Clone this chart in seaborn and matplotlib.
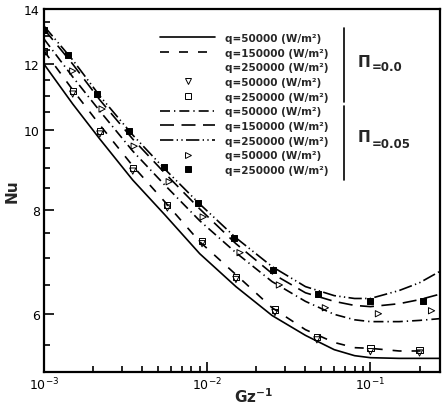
import matplotlib
matplotlib.use('Agg')
import matplotlib.pyplot as plt
import matplotlib.ticker as ticker
from matplotlib.lines import Line2D
import seaborn as sns
import pandas as pd

# curves (Gz^-1 sample points)
gz_curve = [0.001, 0.0015, 0.0022, 0.0035, 0.0055, 0.009, 0.015, 0.025, 0.04, 0.06, 0.08, 0.1, 0.15, 0.2, 0.27]
gz_curve_dashed = [0.001, 0.0015, 0.0022, 0.0035, 0.0055, 0.009, 0.015, 0.025, 0.04, 0.06, 0.08, 0.1, 0.15, 0.2, 0.23]

nu_pi0_q50k = [12.01, 10.75, 9.75, 8.70, 7.90, 7.09, 6.47, 5.97, 5.65, 5.43, 5.34, 5.31, 5.30, 5.30, 5.30]
nu_pi0_q150k = [12.46, 11.18, 10.14, 9.05, 8.19, 7.33, 6.69, 6.10, 5.74, 5.54, 5.46, 5.45, 5.41, 5.41, 5.40]
nu_pi005_q50k = [12.88, 11.59, 10.54, 9.43, 8.58, 7.77, 7.11, 6.56, 6.21, 5.99, 5.90, 5.87, 5.87, 5.89, 5.92]
nu_pi005_q150k = [13.24, 12.01, 10.87, 9.75, 8.87, 8.03, 7.29, 6.71, 6.36, 6.21, 6.14, 6.12, 6.17, 6.24, 6.34]
nu_pi005_q250k = [13.35, 12.15, 10.99, 9.86, 8.97, 8.14, 7.41, 6.84, 6.47, 6.31, 6.26, 6.26, 6.40, 6.54, 6.76]

# markers
gz_pts_pi0 = [0.001, 0.0015, 0.0022, 0.0035, 0.0057, 0.0093, 0.015, 0.026, 0.047, 0.1, 0.2]
nu_pts_pi0_q50k = [12.35, 11.05, 9.89, 8.92, 8.05, 7.29, 6.60, 6.02, 5.58, 5.40, 5.38]
nu_pts_pi0_q250k = [12.46, 11.14, 9.97, 9.00, 8.12, 7.35, 6.65, 6.07, 5.63, 5.45, 5.43]

gz_pts_pi005_q50k = [0.0015, 0.00227, 0.00357, 0.00585, 0.00945, 0.0159, 0.0277, 0.053, 0.112, 0.237]
nu_pts_pi005_q50k = [11.78, 10.60, 9.56, 8.66, 7.85, 7.11, 6.50, 6.10, 6.00, 6.05]
gz_pts_pi005_q250k = [0.001, 0.0014, 0.0021, 0.0033, 0.0054, 0.0088, 0.0146, 0.0254, 0.048, 0.1, 0.21]
nu_pts_pi005_q250k = [13.2, 12.31, 11.05, 9.97, 9.03, 8.17, 7.41, 6.78, 6.34, 6.21, 6.21]

labels = ['q=50000 (W/m²)', 'q=150000 (W/m²)', 'q=250000 (W/m²)', 'q=50000 (W/m²)', 'q=250000 (W/m²)',
          'q=50000 (W/m²)', 'q=150000 (W/m²)', 'q=250000 (W/m²)', 'q=50000 (W/m²)', 'q=250000 (W/m²)']

sns.set_style('ticks')
plt.rcParams['font.family'] = ['DejaVu Sans']

fig = plt.figure(figsize=(4.42, 4.06), dpi=100)
ax = fig.add_axes([0.0995, 0.0825, 0.896, 0.893])

lw = 1.2
styles = {
    'solid': '-',
    'dashed': (0, (5.4, 6)),
    'dashdot': (0, (6, 2.4, 0.8, 2.4)),
    'longdash': (0, (8.4, 4.5)),
    'dashdotdot': (0, (8, 2, 0.8, 2, 0.8, 2)),
}

curves = [
    (gz_curve, nu_pi0_q50k, 'solid'),
    (gz_curve_dashed, nu_pi0_q150k, 'dashed'),
    (gz_curve, nu_pi005_q50k, 'dashdot'),
    (gz_curve, nu_pi005_q150k, 'longdash'),
    (gz_curve, nu_pi005_q250k, 'dashdotdot'),
]
for gz, nu, st in curves:
    df = pd.DataFrame({'gz': gz, 'nu': nu})
    sns.lineplot(data=df, x='gz', y='nu', ax=ax, color='black', lw=lw,
                 linestyle=styles[st], estimator=None, sort=False)

# markers
ms = 20
sns.scatterplot(x=gz_pts_pi0, y=nu_pts_pi0_q50k, ax=ax, marker='v', s=ms,
                facecolors='none', edgecolors='black', linewidth=0.7, zorder=5)
sns.scatterplot(x=gz_pts_pi0, y=nu_pts_pi0_q250k, ax=ax, marker='s', s=ms,
                facecolors='none', edgecolors='black', linewidth=0.7, zorder=5)
sns.scatterplot(x=gz_pts_pi005_q50k, y=nu_pts_pi005_q50k, ax=ax, marker='>', s=ms,
                facecolors='none', edgecolors='black', linewidth=0.7, zorder=5)
sns.scatterplot(x=gz_pts_pi005_q250k, y=nu_pts_pi005_q250k, ax=ax, marker='s', s=16,
                facecolors='black', edgecolors='black', linewidth=0.7, zorder=5)

ax.set_xscale('log')
ax.set_yscale('log')
ax.set_xlim(0.001, 0.267)
ax.set_ylim(5.11, 14.0)

ax.yaxis.set_major_locator(ticker.FixedLocator([6, 8, 10, 12, 14]))
ax.yaxis.set_minor_locator(ticker.FixedLocator([5.5, 6.5, 7, 7.5, 8.5, 9, 9.5, 10.5, 11, 11.5, 12.5, 13, 13.5]))
ax.yaxis.set_major_formatter(ticker.FormatStrFormatter('%d'))
ax.yaxis.set_minor_formatter(ticker.NullFormatter())
ax.xaxis.set_minor_formatter(ticker.NullFormatter())

ax.tick_params(which='both', direction='in', top=False, right=False, width=1.2, labelsize=9, colors='black')
ax.tick_params(which='major', length=7, pad=3)
ax.tick_params(which='minor', length=4)
for sp in ax.spines.values():
    sp.set_linewidth(1.6)
    sp.set_color('black')

ax.set_xlabel(r'$\mathbf{Gz^{-1}}$', fontsize=11)
ax.xaxis.set_label_coords(0.53, -0.04)
ax.set_ylabel('Nu', fontsize=11, fontweight='bold', labelpad=3)

# legend
def mk(marker, fc):
    return Line2D([], [], ls='none', marker=marker, markersize=4.5, markerfacecolor=fc,
                  markeredgecolor='black', markeredgewidth=0.7)

handles = [
    Line2D([], [], color='black', lw=lw, ls=styles['solid']),
    Line2D([], [], color='black', lw=lw, ls=styles['dashed']),
    Line2D([], [], color='none', lw=lw),
    mk('v', 'none'),
    mk('s', 'none'),
    Line2D([], [], color='black', lw=lw, ls=styles['dashdot']),
    Line2D([], [], color='black', lw=lw, ls=styles['longdash']),
    Line2D([], [], color='black', lw=lw, ls=styles['dashdotdot']),
    mk('>', 'none'),
    mk('s', 'black'),
]
leg = ax.legend(handles, labels, loc='upper left', bbox_to_anchor=(0.293, 0.934),
                frameon=False, borderpad=0, borderaxespad=0, handlelength=5.3,
                handletextpad=0.9, labelspacing=0.45, prop={'weight': 'bold', 'size': 7.5})

ax.plot([0.7576, 0.7576], [0.9476, 0.7434], color='black', lw=1.2, transform=ax.transAxes)
ax.plot([0.7576, 0.7576], [0.7324, 0.5283], color='black', lw=1.2, transform=ax.transAxes)
ax.text(0.793, 0.854, 'Π', transform=ax.transAxes, fontsize=11, fontweight='bold', va='center', ha='left')
ax.text(0.828, 0.84, '=0.0', transform=ax.transAxes, fontsize=8.5, fontweight='bold', va='center', ha='left')
ax.text(0.793, 0.647, 'Π', transform=ax.transAxes, fontsize=11, fontweight='bold', va='center', ha='left')
ax.text(0.828, 0.628, '=0.05', transform=ax.transAxes, fontsize=8.5, fontweight='bold', va='center', ha='left')

fig.savefig('out.png', dpi=100)
